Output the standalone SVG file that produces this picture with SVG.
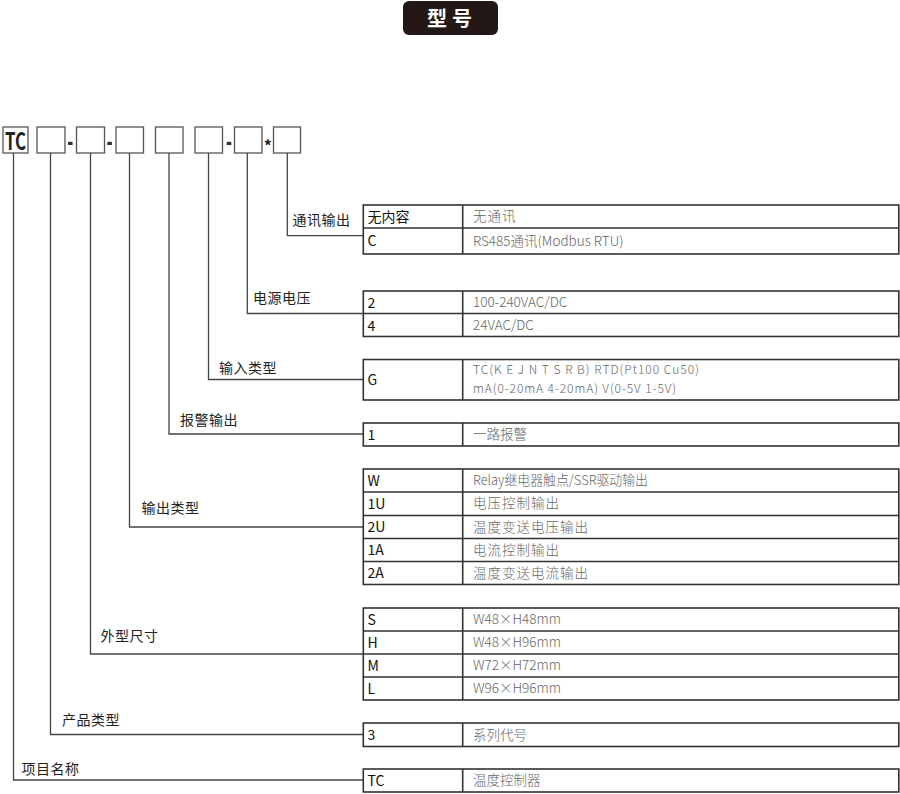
<svg xmlns="http://www.w3.org/2000/svg" width="900" height="794" viewBox="0 0 900 794">
<style>
text{font-family:"Noto Sans CJK SC","Noto Sans",sans-serif}
.box{fill:#fff;stroke:#555;stroke-width:1.3}
.dash{fill:#333}
.tbl{fill:#fff;stroke:#333;stroke-width:1.6}
.ln{stroke:#333;stroke-width:1.6}
.conn{fill:none;stroke:#444;stroke-width:1.3}
.lbl{font-size:14px;fill:#222;font-weight:400}
.key{font-size:14px;fill:#111;font-weight:400}
.val{font-size:13.5px;fill:#666;font-weight:300}
.val2{font-size:12px;fill:#666;font-weight:300}
</style>
<rect width="900" height="794" fill="#fff"/>
<g id="title">
<rect x="403" y="1" width="95" height="34" rx="6" fill="#231815"/>
<text x="427" y="25.5" font-size="20" font-weight="bold" fill="#fff" letter-spacing="5">型号</text>
</g>
<g id="code">
<g id="box-tc"><rect class="box" x="3" y="127" width="25" height="26"/><text x="15.5" y="149.5" text-anchor="middle" font-size="24" font-weight="bold" fill="#222" textLength="21" lengthAdjust="spacingAndGlyphs">TC</text></g>
<g id="box-2"><rect class="box" x="37" y="127" width="28" height="26"/></g>
<rect class="dash" x="68" y="141.8" width="4.6" height="3.2"/>
<g id="box-3"><rect class="box" x="76.5" y="127" width="28" height="26"/></g>
<rect class="dash" x="107.3" y="141.8" width="4.6" height="3.2"/>
<g id="box-4"><rect class="box" x="116" y="127" width="27.5" height="26"/></g>
<g id="box-5"><rect class="box" x="155.5" y="127" width="27.5" height="26"/></g>
<g id="box-6"><rect class="box" x="195" y="127" width="27.5" height="26"/></g>
<rect class="dash" x="226.7" y="141.8" width="4.6" height="3.2"/>
<g id="box-7"><rect class="box" x="234.5" y="127" width="27.5" height="26"/></g>
<text x="267.8" y="152" text-anchor="middle" font-size="16" font-weight="bold" fill="#222">*</text>
<g id="box-8"><rect class="box" x="273.5" y="127" width="27" height="26"/></g>
</g>
<g id="connectors">
<polyline class="conn" points="287.3,153 287.3,235.7 363.3,235.7"/>
<polyline class="conn" points="247.3,153 247.3,313.5 363.3,313.5"/>
<polyline class="conn" points="208.5,153 208.5,379.5 363.3,379.5"/>
<polyline class="conn" points="169,153 169,434 363.3,434"/>
<polyline class="conn" points="129.5,153 129.5,527 363.3,527"/>
<polyline class="conn" points="90.5,153 90.5,654 363.3,654"/>
<polyline class="conn" points="50.5,153 50.5,734.5 363.3,734.5"/>
<polyline class="conn" points="13.5,153 13.5,780 363.3,780"/>
</g>
<g id="labels">
<text class="lbl" x="292.5" y="225" letter-spacing="0.5">通讯输出</text>
<text class="lbl" x="253" y="303" letter-spacing="0.5">电源电压</text>
<text class="lbl" x="219" y="373" letter-spacing="0.5">输入类型</text>
<text class="lbl" x="180" y="425" letter-spacing="0.5">报警输出</text>
<text class="lbl" x="141.5" y="513" letter-spacing="0.5">输出类型</text>
<text class="lbl" x="100.5" y="641" letter-spacing="0.5">外型尺寸</text>
<text class="lbl" x="62" y="725" letter-spacing="0.5">产品类型</text>
<text class="lbl" x="21.5" y="774" letter-spacing="0.5">项目名称</text>
</g>
<g id="table-comm">
<rect class="tbl" x="363.3" y="205" width="535.5" height="49"/>
<line class="ln" x1="363.3" y1="228" x2="898.8" y2="228"/>
<line class="ln" x1="462.7" y1="205" x2="462.7" y2="254"/>
<text class="key" x="367.5" y="221.5">无内容</text><text class="val" x="473" y="221" letter-spacing="1">无通讯</text>
<text class="key" x="367.5" y="246">C</text><text class="val" x="473" y="246">RS485通讯(Modbus RTU)</text>
</g>
<g id="table-power">
<rect class="tbl" x="363.3" y="291" width="535.5" height="45.5"/>
<line class="ln" x1="363.3" y1="313.5" x2="898.8" y2="313.5"/>
<line class="ln" x1="462.7" y1="291" x2="462.7" y2="336.5"/>
<text class="key" x="367.5" y="307.5">2</text><text class="val" x="473" y="307">100-240VAC/DC</text>
<text class="key" x="367.5" y="330.5">4</text><text class="val" x="473" y="330">24VAC/DC</text>
</g>
<g id="table-input">
<rect class="tbl" x="363.3" y="359.5" width="535.5" height="40.5"/>
<line class="ln" x1="462.7" y1="359.5" x2="462.7" y2="400"/>
<text class="key" x="367.5" y="385">G</text>
<text class="val2" x="473" y="374" textLength="226" lengthAdjust="spacing">TC(K E J N T S R B)  RTD(Pt100 Cu50)</text>
<text class="val2" x="473" y="393" textLength="203" lengthAdjust="spacing">mA(0-20mA 4-20mA)  V(0-5V 1-5V)</text>
</g>
<g id="table-alarm">
<rect class="tbl" x="363.3" y="423" width="535.5" height="23"/>
<line class="ln" x1="462.7" y1="423" x2="462.7" y2="446"/>
<text class="key" x="367.5" y="439.5">1</text><text class="val" x="473" y="439">一路报警</text>
</g>
<g id="table-output">
<rect class="tbl" x="363.3" y="469" width="535.5" height="115.5"/>
<line class="ln" x1="363.3" y1="492" x2="898.8" y2="492"/>
<line class="ln" x1="363.3" y1="515.5" x2="898.8" y2="515.5"/>
<line class="ln" x1="363.3" y1="538.5" x2="898.8" y2="538.5"/>
<line class="ln" x1="363.3" y1="561.5" x2="898.8" y2="561.5"/>
<line class="ln" x1="462.7" y1="469" x2="462.7" y2="584.5"/>
<text class="key" x="367.5" y="485.5">W</text><text class="val" x="473" y="485" textLength="175" lengthAdjust="spacingAndGlyphs">Relay继电器触点/SSR驱动输出</text>
<text class="key" x="367.5" y="508.5">1U</text><text class="val" x="473" y="508" letter-spacing="1">电压控制输出</text>
<text class="key" x="367.5" y="532">2U</text><text class="val" x="473" y="531.5" letter-spacing="1">温度变送电压输出</text>
<text class="key" x="367.5" y="555">1A</text><text class="val" x="473" y="554.5" letter-spacing="1">电流控制输出</text>
<text class="key" x="367.5" y="578">2A</text><text class="val" x="473" y="577.5" letter-spacing="1">温度变送电流输出</text>
</g>
<g id="table-size">
<rect class="tbl" x="363.3" y="608" width="535.5" height="92"/>
<line class="ln" x1="363.3" y1="631" x2="898.8" y2="631"/>
<line class="ln" x1="363.3" y1="654" x2="898.8" y2="654"/>
<line class="ln" x1="363.3" y1="677" x2="898.8" y2="677"/>
<line class="ln" x1="462.7" y1="608" x2="462.7" y2="700"/>
<text class="key" x="367.5" y="624.5">S</text><text class="val" x="473" y="624">W48×H48mm</text>
<text class="key" x="367.5" y="647.5">H</text><text class="val" x="473" y="647">W48×H96mm</text>
<text class="key" x="367.5" y="670.5">M</text><text class="val" x="473" y="670">W72×H72mm</text>
<text class="key" x="367.5" y="693.5">L</text><text class="val" x="473" y="693">W96×H96mm</text>
</g>
<g id="table-product">
<rect class="tbl" x="363.3" y="723" width="535.5" height="23.5"/>
<line class="ln" x1="462.7" y1="723" x2="462.7" y2="746.5"/>
<text class="key" x="367.5" y="740">3</text><text class="val" x="473" y="739.5">系列代号</text>
</g>
<g id="table-name">
<rect class="tbl" x="363.3" y="769" width="535.5" height="23"/>
<line class="ln" x1="462.7" y1="769" x2="462.7" y2="792"/>
<text class="key" x="367.5" y="785.5">TC</text><text class="val" x="473" y="785">温度控制器</text>
</g>
</svg>
